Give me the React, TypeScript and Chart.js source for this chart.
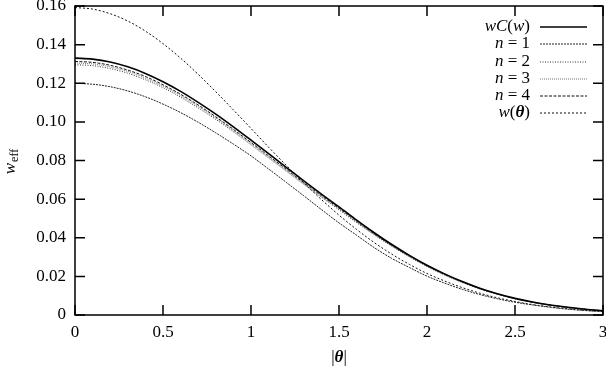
import React, { useEffect, useRef } from "react";
import { Chart, registerables } from "chart.js";

Chart.register(...registerables);

const thetas = [0, 0.1, 0.2, 0.3, 0.4, 0.5, 0.6, 0.7, 0.8, 0.9, 1.0, 1.1, 1.2, 1.3, 1.4, 1.5, 1.6, 1.7, 1.8, 1.9, 2.0, 2.1, 2.2, 2.3, 2.4, 2.5, 2.6, 2.7, 2.8, 2.9, 3.0];
const wC = [0.133, 0.1325, 0.1310, 0.1285, 0.1251, 0.1208, 0.1158, 0.1101, 0.1040, 0.0974, 0.0905, 0.0835, 0.0765, 0.0694, 0.0626, 0.0560, 0.0491, 0.0426, 0.0365, 0.0309, 0.0258, 0.0213, 0.0173, 0.0139, 0.0110, 0.0086, 0.0067, 0.0052, 0.0040, 0.0030, 0.0022];
const n1 = [0.120, 0.1195, 0.1182, 0.1160, 0.1130, 0.1092, 0.1048, 0.0998, 0.0943, 0.0885, 0.0824, 0.0756, 0.0687, 0.0617, 0.0546, 0.0477, 0.0413, 0.0349, 0.0293, 0.0246, 0.0201, 0.0165, 0.0133, 0.0106, 0.0084, 0.0066, 0.0052, 0.0040, 0.0030, 0.0023, 0.0017];
const n2 = [0.1296, 0.1291, 0.1276, 0.1252, 0.1218, 0.1177, 0.1128, 0.1072, 0.1013, 0.0949, 0.0881, 0.0813, 0.0745, 0.0676, 0.0610, 0.0545, 0.0478, 0.0415, 0.0356, 0.0301, 0.0251, 0.0207, 0.0169, 0.0135, 0.0107, 0.0084, 0.0065, 0.0051, 0.0039, 0.0029, 0.0021];
const n3 = [0.1305, 0.1300, 0.1285, 0.1261, 0.1227, 0.1185, 0.1136, 0.1080, 0.1020, 0.0955, 0.0888, 0.0819, 0.0750, 0.0681, 0.0614, 0.0549, 0.0482, 0.0418, 0.0358, 0.0303, 0.0253, 0.0209, 0.0170, 0.0136, 0.0108, 0.0084, 0.0066, 0.0051, 0.0039, 0.0029, 0.0022];
const n4 = [0.1313, 0.1308, 0.1293, 0.1268, 0.1235, 0.1192, 0.1143, 0.1087, 0.1026, 0.0961, 0.0893, 0.0824, 0.0755, 0.0685, 0.0618, 0.0553, 0.0485, 0.0420, 0.0360, 0.0305, 0.0255, 0.0210, 0.0171, 0.0137, 0.0109, 0.0085, 0.0066, 0.0051, 0.0039, 0.0030, 0.0022];
const wTheta = [0.1592, 0.1584, 0.1560, 0.1522, 0.1470, 0.1405, 0.1330, 0.1246, 0.1156, 0.1062, 0.0966, 0.0869, 0.0775, 0.0684, 0.0598, 0.0517, 0.0443, 0.0375, 0.0315, 0.0262, 0.0215, 0.0176, 0.0142, 0.0113, 0.0089, 0.0070, 0.0054, 0.0042, 0.0032, 0.0024, 0.0018];

const xTicks = [0, 0.5, 1, 1.5, 2, 2.5, 3];
const xTickLabels = ["0", "0.5", "1", "1.5", "2", "2.5", "3"];
const yTicks = [0, 0.02, 0.04, 0.06, 0.08, 0.1, 0.12, 0.14, 0.16];
const yTickLabels = ["0", "0.02", "0.04", "0.06", "0.08", "0.10", "0.12", "0.14", "0.16"];

const SERIF = "'Liberation Serif', 'DejaVu Serif', serif";

type Run = { t: string; f: string };

const legendItems: { runs: Run[]; color: string; dash: number[]; width: number }[] = [
  { runs: [{ t: "wC", f: "italic" }, { t: "(", f: "" }, { t: "w", f: "italic" }, { t: ")", f: "" }], color: "#000", dash: [], width: 1.5 },
  { runs: [{ t: "n", f: "italic" }, { t: " = 1", f: "" }], color: "#222", dash: [2, 1], width: 1 },
  { runs: [{ t: "n", f: "italic" }, { t: " = 2", f: "" }], color: "#333", dash: [1, 1.5], width: 1 },
  { runs: [{ t: "n", f: "italic" }, { t: " = 3", f: "" }], color: "#777", dash: [1, 1], width: 1 },
  { runs: [{ t: "n", f: "italic" }, { t: " = 4", f: "" }], color: "#111", dash: [3, 1.5], width: 1 },
  { runs: [{ t: "w", f: "italic" }, { t: "(", f: "" }, { t: "θ", f: "italic bold" }, { t: ")", f: "" }], color: "#111", dash: [2, 2], width: 1 },
];

function drawRuns(ctx: CanvasRenderingContext2D, runs: Run[], xRight: number, y: number, size: number) {
  let total = 0;
  const widths: number[] = [];
  for (const r of runs) {
    ctx.font = `${r.f} ${size}px ${SERIF}`.trim();
    const w = ctx.measureText(r.t).width;
    widths.push(w);
    total += w;
  }
  let x = xRight - total;
  runs.forEach((r, i) => {
    ctx.font = `${r.f} ${size}px ${SERIF}`.trim();
    ctx.fillText(r.t, x, y);
    x += widths[i];
  });
}

const framePlugin = {
  id: "framePlugin",
  afterDraw(chart: any) {
    const { ctx, chartArea, scales } = chart;
    const { left, right, top, bottom } = chartArea;
    const xs = scales.x;
    const ys = scales.y;
    ctx.save();
    ctx.strokeStyle = "#000";
    ctx.lineWidth = 1.5;
    ctx.setLineDash([]);
    ctx.strokeRect(left, top, right - left, bottom - top);
    ctx.beginPath();
    yTicks.forEach((v) => {
      const py = ys.getPixelForValue(v);
      ctx.moveTo(left, py);
      ctx.lineTo(left + 10, py);
      ctx.moveTo(right, py);
      ctx.lineTo(right - 10, py);
    });
    xTicks.forEach((v) => {
      const px = xs.getPixelForValue(v);
      ctx.moveTo(px, bottom);
      ctx.lineTo(px, bottom - 10);
      ctx.moveTo(px, top);
      ctx.lineTo(px, top + 10);
    });
    ctx.stroke();

    ctx.fillStyle = "#000";
    ctx.font = `17px ${SERIF}`;
    ctx.textAlign = "right";
    ctx.textBaseline = "middle";
    yTicks.forEach((v, i) => {
      ctx.fillText(yTickLabels[i], left - 9, ys.getPixelForValue(v));
    });
    ctx.textAlign = "center";
    xTicks.forEach((v, i) => {
      ctx.fillText(xTickLabels[i], xs.getPixelForValue(v), bottom + 18);
    });

    // x title |θ|
    ctx.textAlign = "left";
    const cx = (left + right) / 2;
    const runsX: Run[] = [{ t: "|", f: "" }, { t: "θ", f: "italic bold" }, { t: "|", f: "" }];
    let tw = 0;
    runsX.forEach((r) => { ctx.font = `${r.f} 17px ${SERIF}`.trim(); tw += ctx.measureText(r.t).width; });
    drawRuns(ctx, runsX, cx + tw / 2, bottom + 43, 17);

    // y title w_eff
    ctx.save();
    ctx.translate(11, 162);
    ctx.rotate(-Math.PI / 2);
    ctx.textBaseline = "middle";
    ctx.font = `italic 17px ${SERIF}`;
    const ww = ctx.measureText("w").width;
    ctx.font = `12px ${SERIF}`;
    const ew = ctx.measureText("eff").width;
    const start = -(ww + ew) / 2;
    ctx.font = `italic 17px ${SERIF}`;
    ctx.fillText("w", start, 0);
    ctx.font = `12px ${SERIF}`;
    ctx.fillText("eff", start + ww + 1, 4);
    ctx.restore();

    // legend
    ctx.textBaseline = "middle";
    const rowY = [27, 44, 62, 79, 96, 113];
    legendItems.forEach((it, i) => {
      const y = rowY[i];
      ctx.fillStyle = "#000";
      drawRuns(ctx, it.runs, 530, y, 17);
      ctx.strokeStyle = it.color;
      ctx.lineWidth = it.width;
      ctx.setLineDash(it.dash);
      ctx.beginPath();
      ctx.moveTo(540, y);
      ctx.lineTo(587, y);
      ctx.stroke();
    });
    ctx.restore();
  },
};

export default function App() {
  const ref = useRef<HTMLCanvasElement | null>(null);
  useEffect(() => {
    if (!ref.current) return;
    const mk = (data: number[]) => data.map((v, i) => ({ x: thetas[i], y: v }));
    const common = { pointRadius: 0, cubicInterpolationMode: "monotone" as const, fill: false };
    const chart = new Chart(ref.current, {
      type: "line",
      data: {
        datasets: [
          { label: "wC(w)", data: mk(wC), borderColor: "#000", borderWidth: 1.6, ...common },
          { label: "n = 1", data: mk(n1), borderColor: "#222", borderWidth: 1, borderDash: [2, 1], ...common },
          { label: "n = 2", data: mk(n2), borderColor: "#333", borderWidth: 1, borderDash: [1, 1.5], ...common },
          { label: "n = 3", data: mk(n3), borderColor: "#777", borderWidth: 1, borderDash: [1, 1], ...common },
          { label: "n = 4", data: mk(n4), borderColor: "#111", borderWidth: 1, borderDash: [3, 1.5], ...common },
          { label: "w(θ)", data: mk(wTheta), borderColor: "#111", borderWidth: 1, borderDash: [2, 2], ...common },
        ],
      },
      options: {
        animation: false,
        responsive: true,
        maintainAspectRatio: false,
        layout: { padding: { left: 75, right: 3, top: 6, bottom: 55 } },
        plugins: { legend: { display: false }, tooltip: { enabled: false } },
        scales: {
          x: { type: "linear", min: 0, max: 3, display: false },
          y: { type: "linear", min: 0, max: 0.16, display: false },
        },
      },
      plugins: [framePlugin],
    });
    return () => chart.destroy();
  }, []);
  return (
    <div style={{ position: "absolute", left: 0, top: 0, width: 606, height: 370, background: "#fff" }}>
      <canvas ref={ref} />
    </div>
  );
}
